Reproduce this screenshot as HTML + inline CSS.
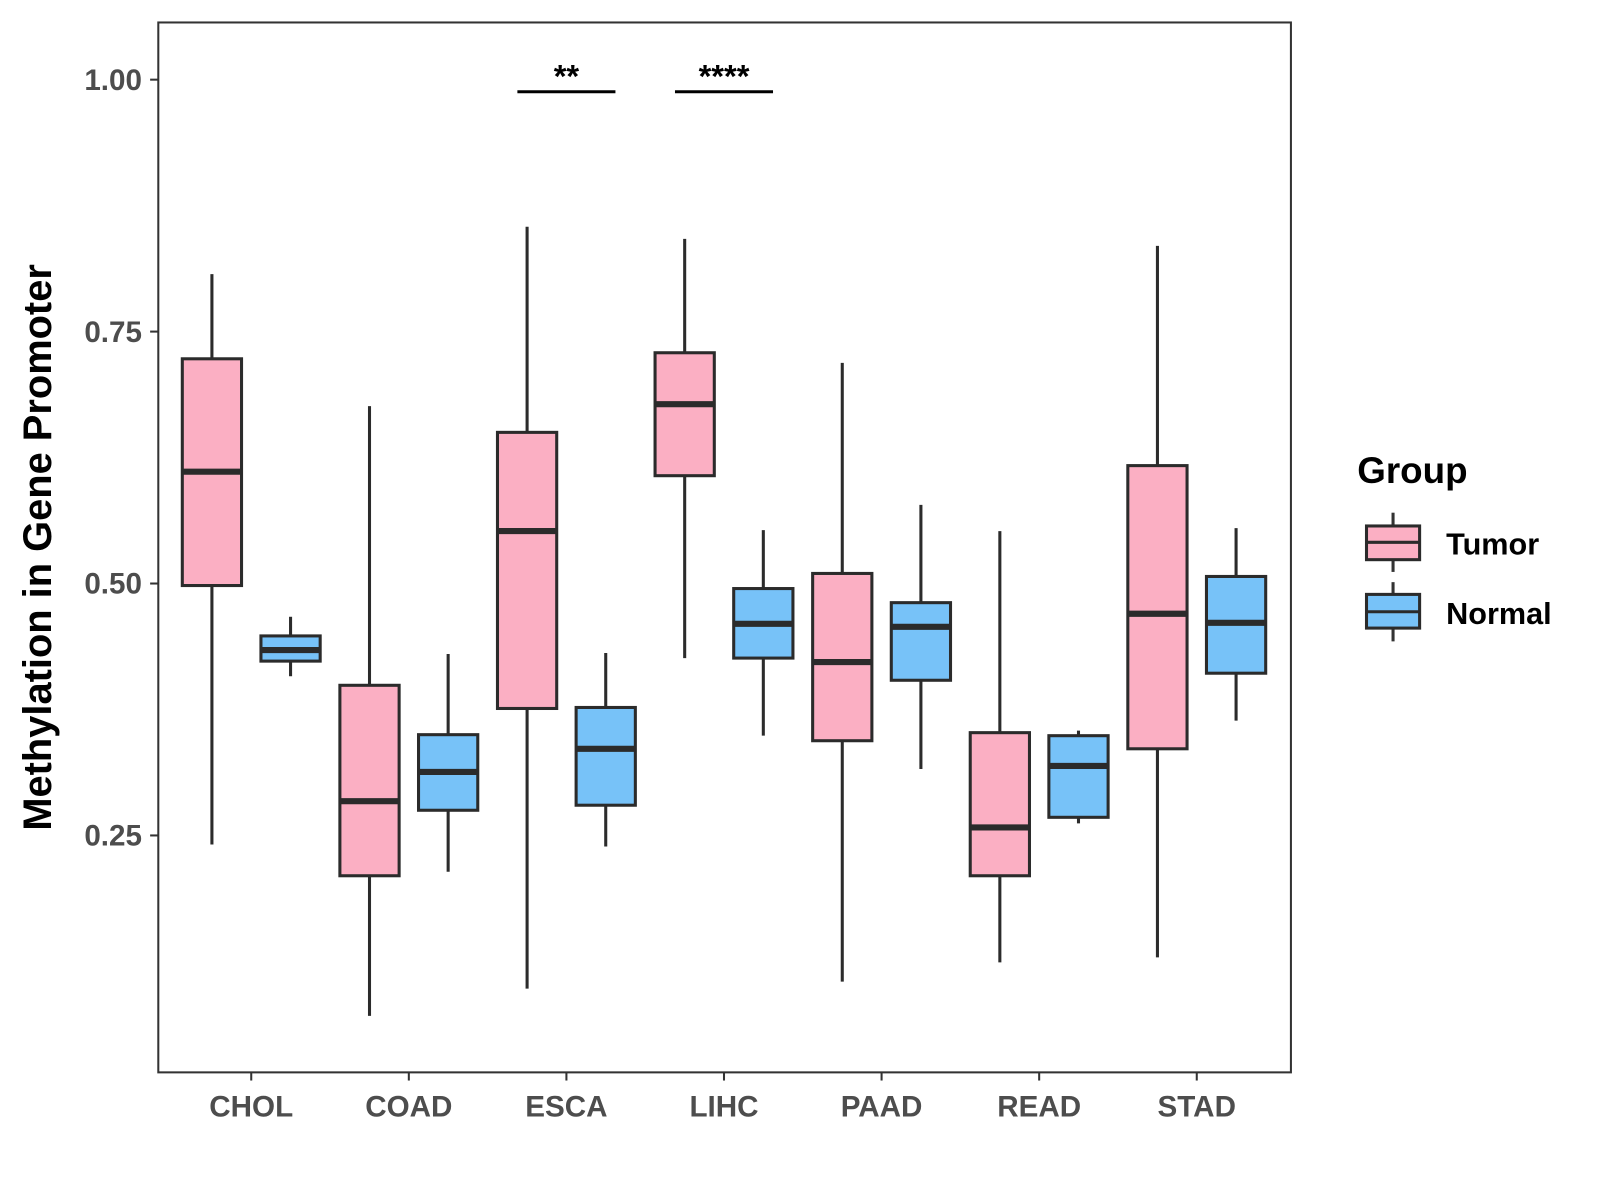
<!DOCTYPE html>
<html><head><meta charset="utf-8"><style>
html,body{margin:0;padding:0;background:#fff;}
svg{display:block;font-family:"Liberation Sans",Arial,sans-serif;}
</style></head><body>
<svg id="chart" width="1600" height="1200" viewBox="0 0 1600 1200">
<g transform="scale(1.0213)">
<rect x="155" y="22" width="1109" height="1028" fill="#fff" stroke="#333" stroke-width="2"/>
<g id="yaxis"></g><g id="xaxis"></g><g id="boxes"></g><g id="sig"></g>
<text x="37" y="536" transform="rotate(-90 37 536)" text-anchor="middle" dominant-baseline="central" font-size="39" font-weight="bold" fill="#000">Methylation in Gene Promoter</text>
<g>
<text x="1329" y="473" font-size="36" font-weight="bold">Group</text>
<g>
<line x1="1364" y1="502" x2="1364" y2="560" stroke="#333" stroke-width="3"/>
<rect x="1338" y="515" width="52" height="33" fill="#fbafc3" stroke="#2b2b2b" stroke-width="3"/>
<line x1="1338" y1="531" x2="1390" y2="531" stroke="#2b2b2b" stroke-width="3"/>
<text x="1416" y="543" font-size="30" font-weight="bold">Tumor</text></g>
<g>
<line x1="1364" y1="570" x2="1364" y2="628" stroke="#333" stroke-width="3"/>
<rect x="1338" y="582" width="52" height="33" fill="#77c2f8" stroke="#2b2b2b" stroke-width="3"/>
<line x1="1338" y1="599" x2="1390" y2="599" stroke="#2b2b2b" stroke-width="3"/>
<text x="1416" y="611" font-size="30" font-weight="bold">Normal</text></g>
</g>
</g>
</svg>
<script>
const categories = ["CHOL","COAD","ESCA","LIHC","PAAD","READ","STAD"];
const tumorLow   = [0.241,0.071,0.098,0.426,0.105,0.124,0.129];
const tumorQ1    = [0.498,0.210,0.376,0.607,0.344,0.210,0.336];
const tumorMed   = [0.611,0.284,0.552,0.678,0.422,0.258,0.470];
const tumorQ3    = [0.723,0.399,0.650,0.729,0.510,0.352,0.617];
const tumorHigh  = [0.807,0.676,0.854,0.842,0.719,0.552,0.835];
const normalLow  = [0.408,0.214,0.239,0.349,0.316,0.262,0.364];
const normalQ1   = [0.423,0.275,0.280,0.426,0.404,0.268,0.411];
const normalMed  = [0.434,0.313,0.336,0.460,0.457,0.319,0.461];
const normalQ3   = [0.448,0.350,0.377,0.495,0.481,0.349,0.507];
const normalHigh = [0.467,0.430,0.431,0.553,0.578,0.354,0.555];
const yTicks = [0.25,0.50,0.75,1.00];
const yTickLabels = ["0.25","0.50","0.75","1.00"];
const sigCategories = ["ESCA","LIHC"];
const sigLabels = ["**","****"];
const sigLevel = 0.988;

const NS="http://www.w3.org/2000/svg";
const y = v => 78 + (1 - v) * 986.7;
const x = i => 246 + i * 154.3;
function mk(tag, attrs, parent, text){const e=document.createElementNS(NS,tag);for(const k in attrs)e.setAttribute(k,attrs[k]);if(text!==undefined)e.textContent=text;parent.appendChild(e);return e;}
const ya=document.getElementById('yaxis'), xa=document.getElementById('xaxis'), bx=document.getElementById('boxes'), sg=document.getElementById('sig');
yTicks.forEach((t,i)=>{
  const l=mk('line',{x1:147,x2:155,y1:y(t),y2:y(t),stroke:'#333','stroke-width':2},ya);
  
  
  const tx=mk('text',{x:139,y:y(t)+10,'text-anchor':'end','font-size':29,'font-weight':'bold',fill:'#4d4d4d'},ya,yTickLabels[i]);
  
  
});
categories.forEach((c,i)=>{
  const l=mk('line',{x1:x(i),x2:x(i),y1:1050,y2:1058,stroke:'#333','stroke-width':2},xa);
  
  
  const tx=mk('text',{x:x(i),y:1093,'text-anchor':'middle','font-size':29,'font-weight':'bold',fill:'#4d4d4d'},xa,c);
  
  
  [[-38.5,tumorLow,tumorQ1,tumorMed,tumorQ3,tumorHigh,'#fbafc3','tumor'],[38.5,normalLow,normalQ1,normalMed,normalQ3,normalHigh,'#77c2f8','normal']].forEach(s=>{
    const cx=x(i)+s[0], w=58;
    const g=mk('g',{},bx);
    
    
    mk('line',{x1:cx,x2:cx,y1:y(s[5][i]),y2:y(s[1][i]),stroke:'#2b2b2b','stroke-width':3},g);
    mk('rect',{x:cx-w/2,y:y(s[4][i]),width:w,height:y(s[2][i])-y(s[4][i]),fill:s[6],stroke:'#2b2b2b','stroke-width':3},g);
    mk('line',{x1:cx-w/2,x2:cx+w/2,y1:y(s[3][i]),y2:y(s[3][i]),stroke:'#2b2b2b','stroke-width':6},g);
  });
});
sigCategories.forEach((c,k)=>{
  const i=categories.indexOf(c);
  const g=mk('g',{},sg);
  
  
  mk('line',{x1:x(i)-48,x2:x(i)+48,y1:y(sigLevel),y2:y(sigLevel),stroke:'#000','stroke-width':3},g);
  mk('text',{x:x(i),y:y(sigLevel)-4,'text-anchor':'middle','font-size':32,'font-weight':'bold'},g,sigLabels[k]);
});
</script>
</body></html>
